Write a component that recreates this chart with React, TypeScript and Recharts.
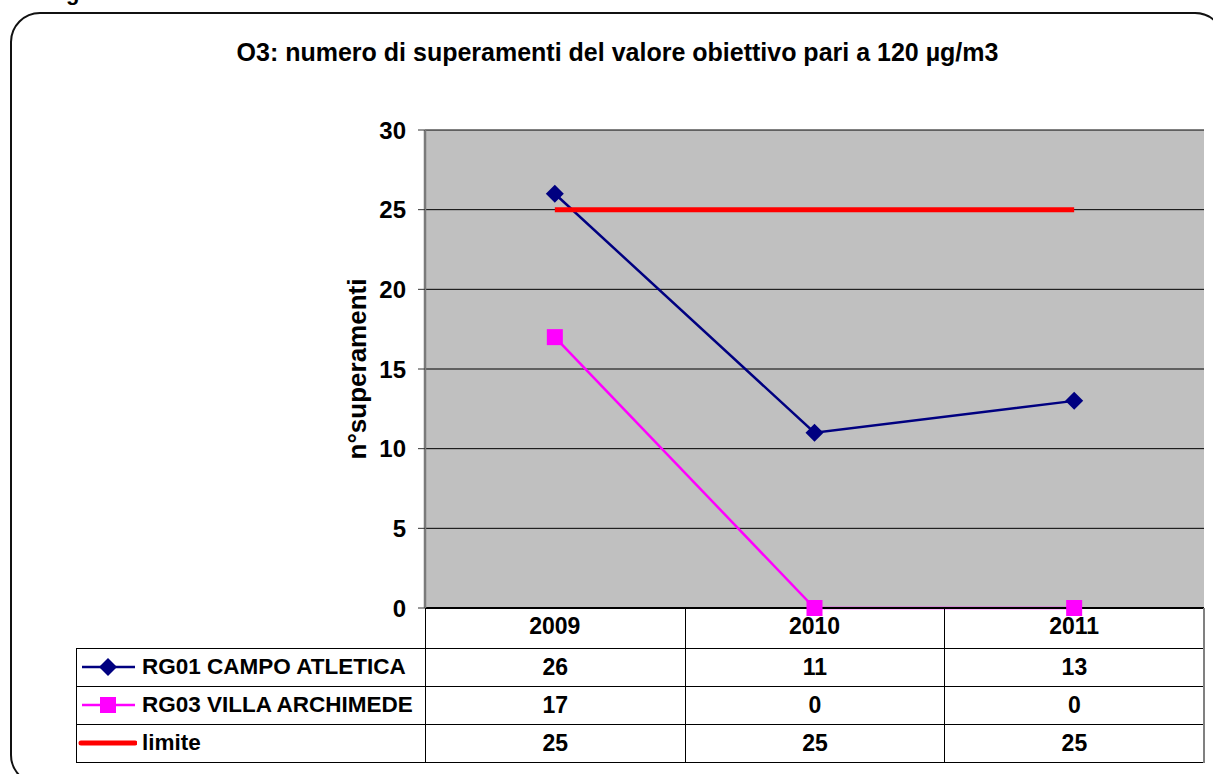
import { LineChart, Line, XAxis, YAxis, CartesianGrid } from 'recharts';

const years = ['2009', '2010', '2011'];
const campoAtletica = [26, 11, 13];
const villaArchimede = [17, 0, 0];
const limite = [25, 25, 25];
const yTicks = [0, 5, 10, 15, 20, 25, 30];

const FONT = 'Arial, "Liberation Sans", sans-serif';
const W = 1213;
const H = 774;
const PLOT = { left: 425, right: 1204, top: 130, bottom: 608 };
const BAND = (PLOT.right - PLOT.left) / years.length;
const X_AXIS_H = 40;

const series = [
  { key: 'campo', name: 'RG01 CAMPO ATLETICA', values: campoAtletica, color: '#000080', width: 2.5, marker: 'diamond' },
  { key: 'villa', name: 'RG03 VILLA ARCHIMEDE', values: villaArchimede, color: '#ff00ff', width: 2.5, marker: 'square' },
  { key: 'limite', name: 'limite', values: limite, color: '#ff0000', width: 5, marker: 'none' },
];

const data = years.map((year, i) => {
  const row: Record<string, string | number> = { year };
  series.forEach((s) => {
    row[s.key] = s.values[i];
  });
  return row;
});

function Marker({ type, cx, cy, color }: { type: string; cx: number; cy: number; color: string }) {
  if (type === 'diamond') {
    const r = 9;
    return <path d={`M${cx},${cy - r}L${cx + r},${cy}L${cx},${cy + r}L${cx - r},${cy}Z`} fill={color} />;
  }
  if (type === 'square') {
    return <rect x={cx - 8} y={cy - 8} width={16} height={16} fill={color} />;
  }
  return null;
}

function LegendIcon({ s }: { s: (typeof series)[number] }) {
  return (
    <svg width={60} height={20} style={{ display: 'block', flex: 'none' }}>
      <line
        x1={s.marker === 'none' ? 4 : 5}
        x2={58}
        y1={10}
        y2={10}
        stroke={s.color}
        strokeWidth={s.width}
        strokeLinecap={s.marker === 'none' ? 'round' : 'butt'}
      />
      <Marker type={s.marker} cx={31} cy={10} color={s.color} />
    </svg>
  );
}

const cellBorder = '1px solid #000';

export default function App() {
  return (
    <div style={{ position: 'absolute', left: 0, top: 0, width: W, height: H, overflow: 'hidden', background: '#fff', fontFamily: FONT }}>
      <div
        style={{
          position: 'absolute',
          left: 10,
          top: 12,
          width: 1215,
          height: 773,
          boxSizing: 'border-box',
          border: '2px solid #111',
          borderRadius: 30,
        }}
      />
      <svg style={{ position: 'absolute', left: 0, top: 0 }} width={120} height={6}>
        <text x={66} y={0} fontSize={22} fontWeight="bold" fontFamily={FONT}>g</text>
      </svg>
      <div
        style={{
          position: 'absolute',
          left: 10,
          top: 40,
          width: 1215,
          textAlign: 'center',
          fontSize: 25,
          lineHeight: '25px',
          fontWeight: 'bold',
          color: '#000',
        }}
      >
        O3: numero di superamenti del valore obiettivo pari a 120 µg/m3
      </div>

      <div style={{ position: 'absolute', left: 0, top: 0 }}>
        <LineChart
          width={W}
          height={H}
          data={data}
          margin={{ top: PLOT.top, right: W - PLOT.right, bottom: H - PLOT.bottom - X_AXIS_H, left: 350 }}
        >
          <CartesianGrid vertical={false} stroke="#000" strokeOpacity={1} fill="#c0c0c0" fillOpacity={1} />
          <XAxis
            dataKey="year"
            padding={{ left: BAND / 2, right: BAND / 2 }}
            height={X_AXIS_H}
            axisLine={{ stroke: '#000', strokeWidth: 2 }}
            tickLine={false}
            tickSize={6}
            tickMargin={4}
            tick={{ fontSize: 23, fontWeight: 'bold', fill: '#000', fontFamily: FONT }}
          />
          <XAxis
            xAxisId="top"
            orientation="top"
            dataKey="year"
            padding={{ left: BAND / 2, right: BAND / 2 }}
            height={0}
            tick={false}
            tickLine={false}
            axisLine={{ stroke: '#808080', strokeWidth: 2 }}
          />
          <YAxis
            domain={[0, 30]}
            ticks={yTicks}
            width={75}
            interval={0}
            axisLine={{ stroke: '#7a7a7a', strokeWidth: 2.5 }}
            tickLine={{ stroke: '#333' }}
            tickSize={7}
            tickMargin={12}
            tick={{ fontSize: 24, fontWeight: 'bold', fill: '#000', fontFamily: FONT }}
            label={{
              value: 'n°superamenti',
              angle: -90,
              position: 'insideLeft',
              offset: 7,
              style: { textAnchor: 'middle', fontSize: 26, fontWeight: 'bold', fill: '#000', fontFamily: FONT },
            }}
          />
          <YAxis
            yAxisId="r"
            orientation="right"
            domain={[0, 30]}
            width={0}
            tick={false}
            tickLine={false}
            axisLine={{ stroke: '#808080', strokeWidth: 2.5 }}
          />
          {series.map((s) => (
            <Line
              key={s.key}
              dataKey={s.key}
              name={s.name}
              type="linear"
              stroke={s.color}
              strokeWidth={s.width}
              isAnimationActive={false}
              activeDot={false}
              dot={
                s.marker === 'none'
                  ? false
                  : (p: any) => (
                      <g key={`${s.key}-${p.index}`}>
                        <Marker type={s.marker} cx={p.cx} cy={p.cy} color={s.color} />
                      </g>
                    )
              }
            />
          ))}
        </LineChart>
      </div>

      <table
        style={{
          position: 'absolute',
          left: 76,
          top: PLOT.bottom,
          width: PLOT.right + 1 - 76,
          borderCollapse: 'collapse',
          tableLayout: 'fixed',
          fontFamily: FONT,
          fontWeight: 'bold',
          fontSize: 23,
          color: '#000',
        }}
      >
        <colgroup>
          <col style={{ width: PLOT.left - 76 }} />
          {years.map((y) => (
            <col key={y} style={{ width: BAND }} />
          ))}
        </colgroup>
        <tbody>
          <tr style={{ height: 40 }}>
            <td style={{ padding: 0 }} />
            {years.map((y, i) => (
              <td
                key={y}
                style={{
                  padding: 0,
                  borderLeft: cellBorder,
                  borderRight: i === years.length - 1 ? '2px solid #808080' : cellBorder,
                }}
              />
            ))}
          </tr>
          {series.map((s) => (
            <tr key={s.key} style={{ height: 38 }}>
              <td style={{ border: cellBorder, padding: 0 }}>
                <div style={{ display: 'flex', alignItems: 'center', gap: 5 }}>
                  <LegendIcon s={s} />
                  <span style={{ whiteSpace: 'nowrap', fontSize: 22.5 }}>{s.name}</span>
                </div>
              </td>
              {s.values.map((v, i) => (
                <td
                  key={i}
                  style={{
                    border: cellBorder,
                    borderRight: i === s.values.length - 1 ? '2px solid #808080' : cellBorder,
                    padding: 0,
                    textAlign: 'center',
                  }}
                >
                  {v}
                </td>
              ))}
            </tr>
          ))}
        </tbody>
      </table>
    </div>
  );
}
